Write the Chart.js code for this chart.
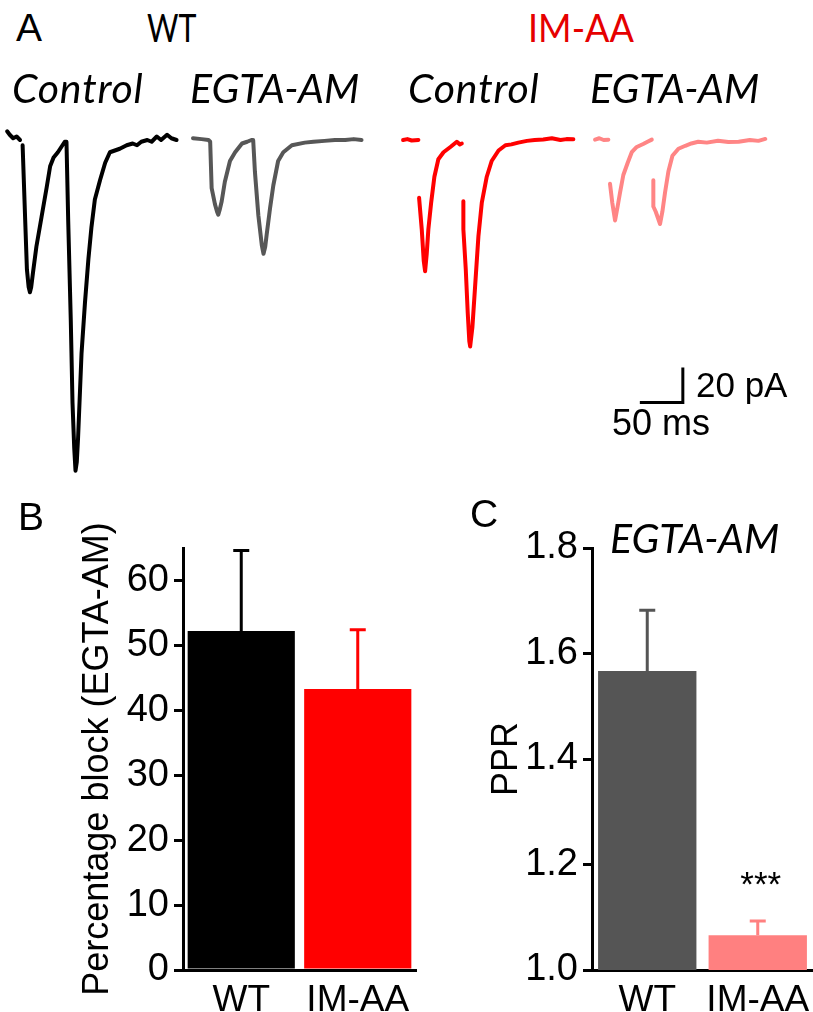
<!DOCTYPE html>
<html>
<head>
<meta charset="utf-8">
<script src="https://cdn.jsdelivr.net/npm/chart.js@4.4.1/dist/chart.umd.min.js"></script>
<style>
  html, body { margin: 0; padding: 0; background: #fff; }
  #fig { position: relative; width: 813px; height: 1012px; overflow: hidden; font-family: "Liberation Sans", Arial, sans-serif; }
  .box { position: absolute; }
  .txt { position: absolute; line-height: 1; white-space: nowrap; color: #000; z-index: 2; }
  .panel { font-size: 39px; }
  .cond { font-family: Lato, sans-serif; font-size: 38px; transform-origin: 0 0; }
  .it { font-family: Lato, sans-serif; font-style: italic; font-size: 41px; }
</style>
</head>
<body>
<div id="fig">
  <div class="box" style="left:0;top:110px;width:813px;height:380px"><canvas id="traces"></canvas></div>
  <div class="box" style="left:0;top:500px;width:430px;height:512px"><canvas id="block"></canvas></div>
  <div class="box" style="left:430px;top:500px;width:383px;height:512px"><canvas id="ppr"></canvas></div>

  <div class="txt panel" style="left:16px;top:8px">A</div>
  <div class="txt cond" style="left:147px;top:8px;transform:scaleX(0.8)">WT</div>
  <div class="txt cond" style="left:528px;top:8px;color:#e60000;transform:scaleX(0.95)">IM-AA</div>
  <div class="txt it" style="left:12px;top:67px;letter-spacing:0.8px">Control</div>
  <div class="txt it" style="left:190px;top:67px">EGTA-AM</div>
  <div class="txt it" style="left:408px;top:67px;letter-spacing:0.8px">Control</div>
  <div class="txt it" style="left:590px;top:67px">EGTA-AM</div>
  <div class="txt" style="left:696px;top:367px;font-size:35px">20 pA</div>
  <div class="txt" style="left:612px;top:405px;font-size:36px">50 ms</div>

  <div class="txt panel" style="left:18px;top:497px">B</div>
  <div class="txt panel" style="left:470px;top:494px">C</div>
  <div class="txt it" style="left:610px;top:517px">EGTA-AM</div>
</div>
<script>
// panel A sweeps: [time ms, current pA], null current = blanked stimulus artefact
const wtControl = [
  [-1, 5], [2, 3], [6, 1], [10, 2], [14, 0], [15, null],
  [17, -3], [20, -46], [22, -74], [24, -84], [25.5, -87], [27, -84], [29, -76], [33, -61], [39, -44], [45, -27],
  [49, -15], [53, -10], [58, -7], [62, -4], [66, -1], [68, -1], [70, -46], [73, -103],
  [75, -150], [77, -176], [78.5, -189], [80, -184], [81.5, -170], [85.5, -122], [89.5, -93], [93.5, -68],
  [97, -50], [101, -34], [107, -23], [113, -13], [118.5, -7], [130, -5], [138, -3], [145, -2],
  [150, -3], [155, -1], [162, 0], [167, -1], [173, 2], [178, 0], [185, 3], [190, 1], [196, 0]
];
const wtEgta = [
  [0, 1], [10, 0.5], [18, 0], [20, -1], [21.7, -27.5], [25.6, -36.8], [28, -41], [29.4, -42.7], [31, -40], [33.4, -35],
  [37, -24], [43, -12], [49, -7], [57, -2], [63, -1], [68, 0], [70, 0], [72, -18], [76, -43],
  [80, -60], [82, -65], [84, -61], [85.7, -54], [89.6, -39], [93.4, -26], [99, -12], [105, -7], [115, -3],
  [130, -1.5], [140, -1], [153, -0.5], [165, 0], [177, 0], [187, 0.5], [196, 0]
];
const imaaControl = [
  [0, 0], [5, 0.5], [10, -0.3], [17.8, 0], [18.2, null],
  [18.6, -33], [21.7, -51], [24, -69], [25.6, -75], [27.5, -65], [29.4, -51], [32.6, -36], [36.4, -21],
  [41, -11], [47, -7], [55, -4], [62.5, -1], [66, -2.5], [68.3, -2], [69, null],
  [70.1, -35], [70.1, -51], [72.9, -74], [75.2, -99], [77, -115], [78, -118], [80.6, -107], [83.7, -84],
  [87.6, -55], [91.5, -36], [97.3, -21], [103, -12], [111, -6], [119, -3], [126, -2.5],
  [134, -1.5], [144, -0.5], [153, 0], [163, 0.3], [173, 1], [183, 0], [190, 0.5], [198, 0.4]
];
const imaaEgta = [
  [0, 0.2], [5, 1], [10, 0], [15.5, 0.2], [16.5, null],
  [17.4, -25], [20.1, -36], [23.3, -46], [25.9, -39], [29.1, -30], [32.9, -20], [38, -13],
  [42.7, -7], [48.5, -4], [56, -2.3], [61, -1], [66, 0.2], [67, null],
  [67.8, -23], [67.8, -38], [70.6, -41], [75.6, -48], [78.3, -41], [81.4, -30], [85.3, -18],
  [90, -9], [97, -5], [105, -3.3], [112, -2], [120, -1], [130, -1.5], [143, -0.4], [155, -1.2],
  [167, -1], [180, 0], [190, -0.5], [198, 0.6]
];

// panel B / C
const groups = ['WT', 'IM-AA'];
const blockMean = [52.2, 43.3];
const blockSem = [12.4, 9.1];
const blockTicks = [0, 10, 20, 30, 40, 50, 60];
const pprMean = [1.567, 1.066];
const pprSem = [0.115, 0.027];
const pprTicks = [1.0, 1.2, 1.4, 1.6, 1.8];
const pprStars = ['', '***'];

// scale bar: 50 ms x 20 pA
const barMs = 50;
const barPa = 20;

const sweepColors = ['#000000', '#575757', '#ff0000', '#ff8585'];
const sweepStart = [9.3, 224.4, 468.7, 691.9];   // where each sweep sits on the time axis (ms)
const scaleCorner = [794, -150];

const black = '#000';
const sans = 'Liberation Sans';

const sweeps = [wtControl, wtEgta, imaaControl, imaaEgta].map((pts, k) => ({
  data: pts.map(([t, i]) => ({ x: t + sweepStart[k], y: i })),
  borderColor: sweepColors[k],
  borderWidth: 4,
  borderJoinStyle: 'round',
  borderCapStyle: 'round',
  pointRadius: 0,
  tension: 0,
  spanGaps: false
}));

sweeps.push({
  data: [
    { x: scaleCorner[0] - barMs, y: scaleCorner[1] },
    { x: scaleCorner[0], y: scaleCorner[1] },
    { x: scaleCorner[0], y: scaleCorner[1] + barPa }
  ],
  borderColor: black,
  borderWidth: 3,
  pointRadius: 0,
  tension: 0
});

new Chart(document.getElementById('traces'), {
  type: 'line',
  data: { datasets: sweeps },
  options: {
    responsive: true,
    maintainAspectRatio: false,
    animation: false,
    layout: { padding: 0 },
    plugins: { legend: { display: false }, tooltip: { enabled: false } },
    scales: {
      x: { type: 'linear', display: false, min: 0, max: 945.35 },
      y: { type: 'linear', display: false, min: -200, max: 17.14 }
    }
  }
});

const errorBars = {
  id: 'errorBars',
  afterDatasetsDraw(chart, args, o) {
    const { ctx } = chart;
    const y = chart.scales.y;
    const meta = chart.getDatasetMeta(0);
    ctx.save();
    ctx.lineWidth = 3;
    meta.data.forEach((bar, i) => {
      const top = y.getPixelForValue(o.means[i] + o.sems[i]);
      ctx.strokeStyle = o.colors[i];
      ctx.beginPath();
      ctx.moveTo(bar.x, bar.y);
      ctx.lineTo(bar.x, top);
      ctx.moveTo(bar.x - 8, top);
      ctx.lineTo(bar.x + 8, top);
      ctx.stroke();
      if (o.stars && o.stars[i]) {
        ctx.fillStyle = black;
        ctx.font = '35px "' + sans + '"';
        ctx.textAlign = 'center';
        ctx.textBaseline = 'alphabetic';
        ctx.fillText(o.stars[i], bar.x + 3, top - 25);
      }
    });
    ctx.restore();
  }
};

function barPanel(canvas, means, sems, colors, errColors, ticks, cfg) {
  return new Chart(canvas, {
    type: 'bar',
    data: {
      labels: groups,
      datasets: [{
        data: means,
        backgroundColor: colors,
        borderWidth: 0,
        categoryPercentage: 1,
        barPercentage: cfg.barPct
      }]
    },
    plugins: [errorBars],
    options: {
      responsive: true,
      maintainAspectRatio: false,
      animation: false,
      layout: { padding: { top: 48, right: cfg.padRight, left: 0, bottom: 0 } },
      plugins: {
        legend: { display: false },
        tooltip: { enabled: false },
        errorBars: { means, sems, colors: errColors, stars: cfg.stars }
      },
      scales: {
        x: {
          grid: { display: false, drawTicks: true, tickLength: 9 },
          border: { display: true, color: black, width: 3 },
          ticks: { color: black, padding: 0, font: { family: sans, size: 37 } },
          afterFit: s => { s.height = 42 }
        },
        y: {
          min: cfg.min,
          max: cfg.max,
          afterBuildTicks: s => { s.ticks = ticks.map(v => ({ value: v })) },
          grid: { drawOnChartArea: false, drawTicks: true, tickLength: 9, lineWidth: 3, color: black },
          border: { display: true, color: black, width: 3 },
          ticks: { color: black, padding: 5, font: { family: sans, size: 38 }, callback: cfg.fmt },
          title: { display: true, text: cfg.title, color: black, font: { family: sans, size: 36 }, padding: { top: cfg.titlePad, bottom: 0 } },
          afterFit: s => { s.width = cfg.axisWidth }
        }
      }
    }
  });
}

barPanel(document.getElementById('block'), blockMean, blockSem, ['#000000', '#ff0000'], ['#000000', '#ff0000'], blockTicks, {
  min: 0, max: 65, barPct: 0.92, padRight: 14, axisWidth: 183, titlePad: 76,
  title: 'Percentage block (EGTA-AM)', fmt: v => v
});

barPanel(document.getElementById('ppr'), pprMean, pprSem, ['#555555', '#ff8080'], ['#555555', '#ff8080'], pprTicks, {
  min: 1.0, max: 1.8, barPct: 0.89, padRight: 0, axisWidth: 162, titlePad: 55,
  title: 'PPR', fmt: v => v.toFixed(1), stars: pprStars
});
</script>
</body>
</html>
